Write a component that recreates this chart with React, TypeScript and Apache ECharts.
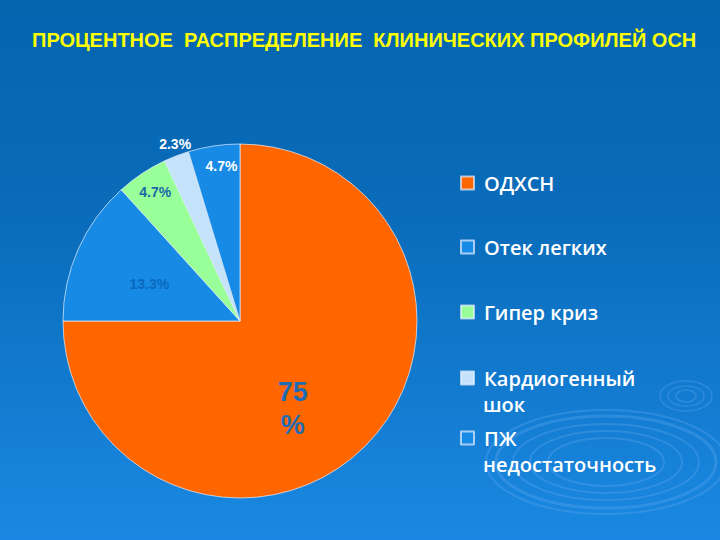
import React, { useEffect, useRef } from "react";
import * as echarts from "echarts";

const categories = ["ОДХСН", "Отек легких", "Гипер криз", "Кардиогенный шок", "ПЖ недостаточность"];
const values = [75, 13.3, 4.7, 2.3, 4.7];
const labelTexts = ["75\n%", "13.3%", "4.7%", "2.3%", "4.7%"];
const sliceColors = ["#FF6600", "#168AE4", "#99FF99", "#C4E2FA", "#168AE4"];
const labelColors = ["#1F6CB4", "#0A69BC", "#1B6AA6", "#FFFFFF", "#FFFFFF"];
const legendFirstLines = ["ОДХСН", "Отек легких", "Гипер криз", "Кардиогенный", "ПЖ"];
const legendSecondLines = ["", "", "", "шок", "недостаточность"];

const titleText = "ПРОЦЕНТНОЕ  РАСПРЕДЕЛЕНИЕ  КЛИНИЧЕСКИХ ПРОФИЛЕЙ ОСН";

export default function App() {
  const ref = useRef<HTMLDivElement>(null);
  useEffect(() => {
    if (!ref.current) return;
    const chart = echarts.init(ref.current, undefined, { renderer: "svg" });

    const legendCenters = [183, 247, 312, 378, 438];
    const labelShifts = [
      [-12, 23],
      [-7, 0],
      [-34, -53],
      [-32, -92],
      [-5, -64],
    ];
    const labelSizes = [27, 14, 14, 14, 14];

    const legends = categories.map((name, i) => ({
      data: [name],
      orient: "vertical",
      left: 460,
      top: legendCenters[i] - 13,
      padding: 0,
      icon: "rect",
      itemWidth: 13,
      itemHeight: 13,
      selectedMode: false,
      formatter: () => legendFirstLines[i],
      textStyle: {
        color: "#FFFFFF",
        fontSize: 20,
        fontWeight: 600,
        lineHeight: 26,
        fontFamily: "Open Sans",
        padding: [0, 0, 0, 5],
      },
    }));

    const ripples: any[] = [];
    const bigR = [[110, 46], [93, 38], [76, 31], [58, 24], [120, 52]];
    bigR.forEach(([rx, ry], k) =>
      ripples.push({
        type: "ellipse",
        shape: { cx: 606, cy: 462, rx, ry },
        style: { fill: "none", stroke: "rgba(110,175,245,0.28)", lineWidth: k === 0 ? 3 : 2 },
        silent: true,
        z: -1,
      })
    );
    [[26, 15], [18, 10], [10, 6]].forEach(([rx, ry]) =>
      ripples.push({
        type: "ellipse",
        shape: { cx: 686, cy: 396, rx, ry },
        style: { fill: "none", stroke: "rgba(110,175,245,0.28)", lineWidth: 1.5 },
        silent: true,
        z: -1,
      })
    );

    const secondLineTexts = legendSecondLines
      .map((t, i) =>
        t
          ? {
              type: "text",
              left: 483,
              top: legendCenters[i] + 26 - 13,
              style: {
                text: t,
                fill: "#FFFFFF",
                fontSize: 20,
                fontWeight: 600,
                lineHeight: 26,
                fontFamily: "Open Sans",
              },
            }
          : null
      )
      .filter(Boolean);

    chart.setOption({
      animation: false,
      backgroundColor: {
        type: "linear",
        x: 0,
        y: 0,
        x2: 0,
        y2: 1,
        colorStops: [
          { offset: 0, color: "#0464AE" },
          { offset: 0.4, color: "#0A6CBA" },
          { offset: 1, color: "#1A88E2" },
        ],
      },
      title: {
        text: titleText,
        left: 32,
        top: 30,
        padding: 0,
        textStyle: {
          color: "#FFFF00",
          fontSize: 20,
          fontWeight: "bold",
          fontFamily: "Liberation Sans",
        },
      },
      legend: legends,
      graphic: [...ripples, ...secondLineTexts],
      series: [
        {
          type: "pie",
          center: [240, 321],
          radius: [0, 177],
          startAngle: 90,
          clockwise: true,
          labelLine: { show: false },
          itemStyle: { borderColor: "rgba(230,240,255,0.7)", borderWidth: 1 },
          labelLayout: (p: any) => ({ dx: labelShifts[p.dataIndex][0], dy: labelShifts[p.dataIndex][1] }),
          data: categories.map((name, i) => ({
            name,
            value: values[i],
            itemStyle: { color: sliceColors[i] },
            label: {
              show: true,
              position: "inside",
              formatter: labelTexts[i],
              color: labelColors[i],
              fontSize: labelSizes[i],
              fontWeight: "bold",
              fontFamily: "Liberation Sans",
              lineHeight: i === 0 ? 33 : 16,
              textBorderWidth: 0,
            },
          })),
        },
      ],
    });
    return () => chart.dispose();
  }, []);
  return (
    <div
      ref={ref}
      style={{ position: "fixed", left: 0, top: 0, width: 720, height: 540 }}
    />
  );
}
